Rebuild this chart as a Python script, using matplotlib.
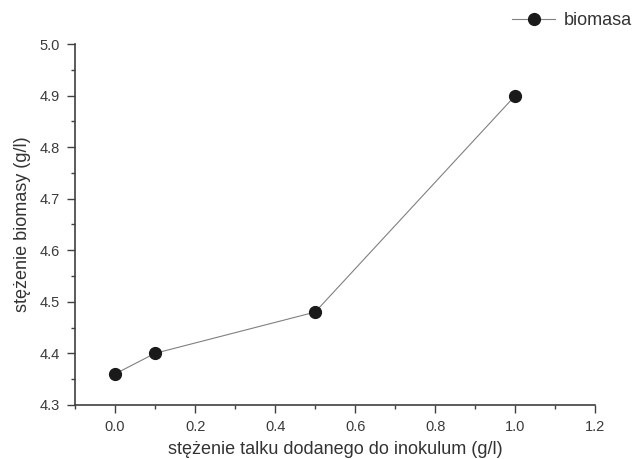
import matplotlib
matplotlib.use('Agg')
import matplotlib.pyplot as plt
from matplotlib.ticker import MultipleLocator

plt.rcParams['font.family'] = ['Liberation Sans', 'DejaVu Sans']

# Data
talc = [0.0, 0.1, 0.5, 1.0]
biomass = [4.36, 4.40, 4.48, 4.90]
series_label = 'biomasa'

fig = plt.figure(figsize=(6.36, 4.59), dpi=100)
ax = fig.add_axes([0.118, 0.118, 0.818, 0.786])

line, = ax.plot(talc, biomass, '-o', color='#808080', linewidth=0.8,
                markerfacecolor='#1a1a1a', markeredgecolor='#1a1a1a',
                markersize=8.5, label=series_label, clip_on=False)

ax.set_xlim(-0.1, 1.2)
ax.set_ylim(4.3, 5.0)
ax.xaxis.set_major_locator(MultipleLocator(0.2))
ax.xaxis.set_minor_locator(MultipleLocator(0.1))
ax.yaxis.set_major_locator(MultipleLocator(0.1))
ax.yaxis.set_minor_locator(MultipleLocator(0.05))

for side in ['top', 'right']:
    ax.spines[side].set_visible(False)
for side in ['left', 'bottom']:
    ax.spines[side].set_color('#404040')
    ax.spines[side].set_linewidth(1.2)

ax.tick_params(which='major', direction='out', length=6, width=1, color='#404040',
               labelsize=10.5, labelcolor='#3a3a3a', pad=5)
ax.tick_params(which='minor', direction='out', length=3, width=1, color='#404040')
ax.set_xticklabels(['{:.1f}'.format(v) for v in ax.get_xticks()])
ax.set_yticklabels(['{:.1f}'.format(v) for v in ax.get_yticks()])

ax.set_xlabel('stężenie talku dodanego do inokulum (g/l)', fontsize=13, color='#333333', labelpad=5)
ax.set_ylabel('stężenie biomasy (g/l)', fontsize=13, color='#333333', labelpad=6)

fig.legend(handles=[line], loc='center left', bbox_to_anchor=(0.785, 0.955),
           frameon=False, fontsize=13, labelcolor='#333333',
           handlelength=2.4, handletextpad=0.5, borderpad=0.2)

fig.savefig('out.png', dpi=100)
